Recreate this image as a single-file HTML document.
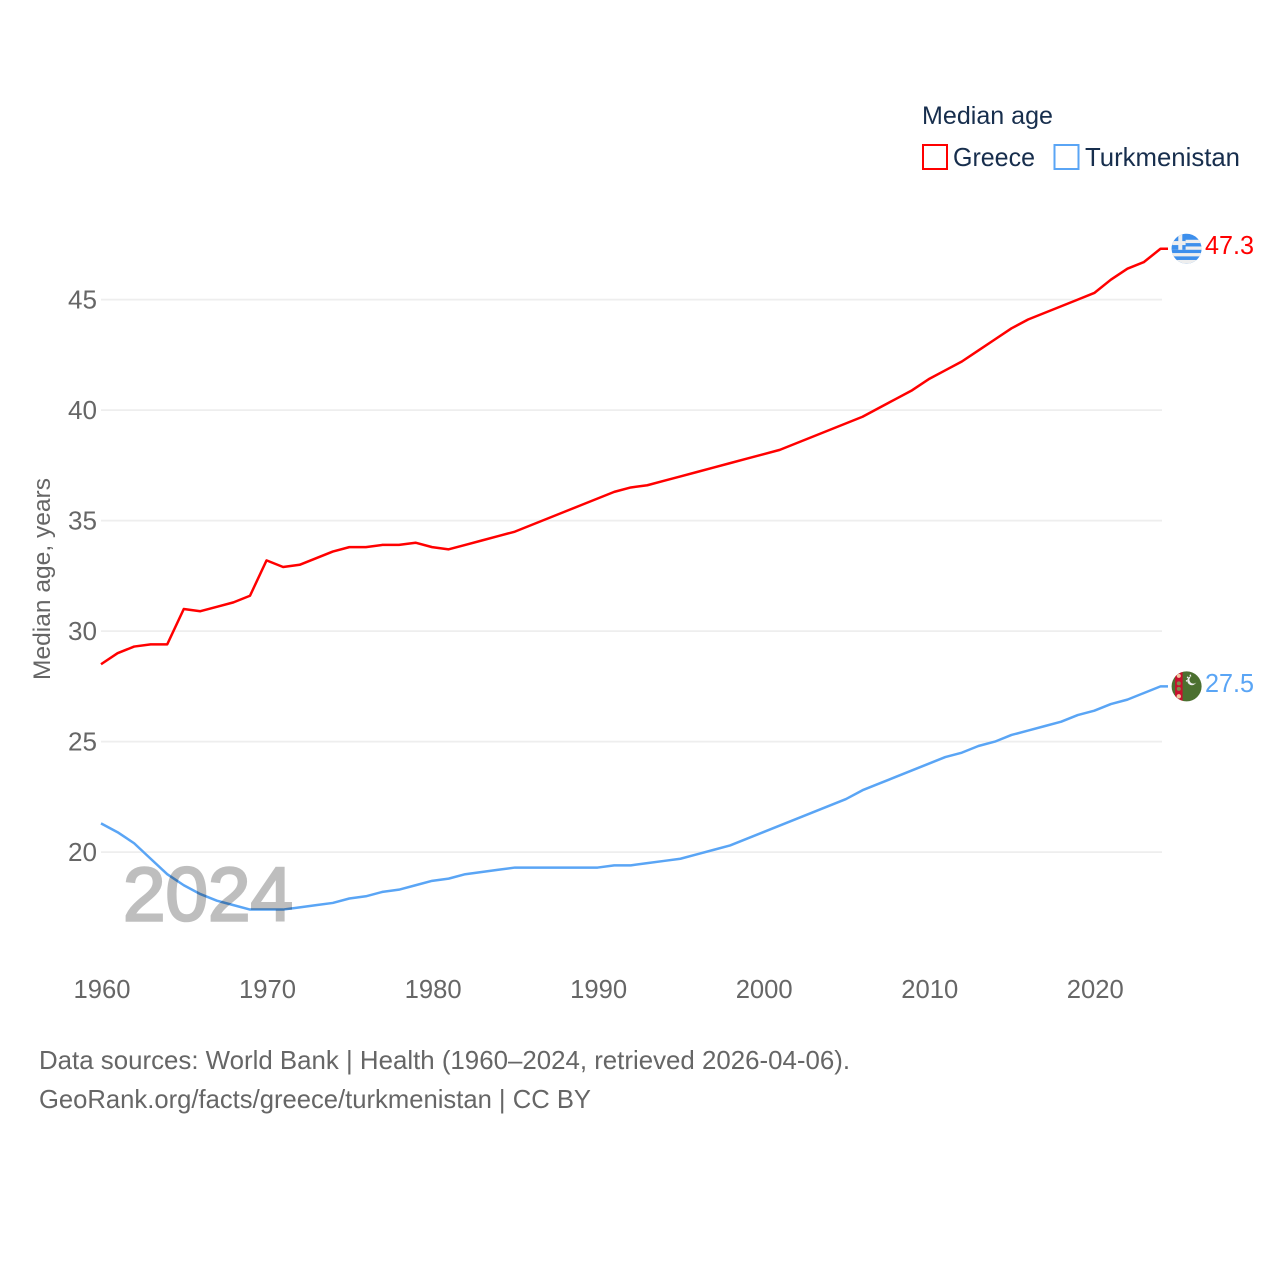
<!DOCTYPE html>
<html lang="en">
<head>
<meta charset="utf-8">
<title>Median age: Greece and Turkmenistan</title>
<style>
html,body{margin:0;padding:0;background:#fff}
svg{display:block}
text{font-family:"Liberation Sans",sans-serif}
</style>
</head>
<body>
<svg id="chart" xmlns="http://www.w3.org/2000/svg" width="1280" height="1280" viewBox="0 0 1280 1280">
  <defs>
    <clipPath id="flag-clip"><circle cx="0" cy="0" r="15"/></clipPath>
  </defs>
  <rect width="1280" height="1280" fill="#fff"/>
  <g id="grid"></g>
  <g id="y-ticks"></g>
  <g id="x-ticks"></g>
  <text transform="translate(50,680) rotate(-90)" font-size="24" fill="#666" textLength="202" lengthAdjust="spacingAndGlyphs">Median age, years</text>
  <g id="series"></g>
  <text x="123" y="920.5" font-size="76.5" font-weight="400" fill="#000" stroke="#000" stroke-width="2.5" opacity="0.25" textLength="170" lengthAdjust="spacingAndGlyphs">2024</text>

  <g>
    <text x="922" y="124" font-size="25" fill="#172e4d" textLength="131" lengthAdjust="spacingAndGlyphs">Median age</text>
    <rect x="923" y="145" width="24" height="24" fill="#fff" stroke="#ff0000" stroke-width="2"/>
    <text x="953" y="166" font-size="26" fill="#172e4d" textLength="82" lengthAdjust="spacingAndGlyphs">Greece</text>
    <rect x="1054.5" y="145" width="24" height="24" fill="#fff" stroke="#5aa5f5" stroke-width="2"/>
    <text x="1085" y="166" font-size="26" fill="#172e4d" textLength="155" lengthAdjust="spacingAndGlyphs">Turkmenistan</text>
  </g>

  <g id="flag-greece">
    <g clip-path="url(#flag-clip)">
      <rect x="-16" y="-16" width="32" height="32" fill="#3d8fec"/>
      <rect x="-16" y="-9" width="32" height="3.3" fill="#eeeeee"/>
      <rect x="-16" y="-2.3" width="32" height="3.3" fill="#eeeeee"/>
      <rect x="-16" y="4.3" width="32" height="3.3" fill="#eeeeee"/>
      <rect x="-16" y="11.2" width="32" height="4" fill="#eeeeee"/>
      <rect x="-16" y="-16" width="15" height="17" fill="#3d8fec"/>
      <rect x="-8.3" y="-16" width="4" height="17" fill="#eeeeee"/>
      <rect x="-16" y="-7.7" width="15" height="4" fill="#eeeeee"/>
    </g>
  </g>
  <g id="flag-turkmenistan">
    <g clip-path="url(#flag-clip)">
      <rect x="-16" y="-16" width="32" height="32" fill="#4c7030"/>
      <rect x="-11.5" y="-16" width="7.5" height="32" fill="#c8102e"/>
      <circle cx="-7.8" cy="-10.5" r="2" fill="#f0c8a0"/>
      <circle cx="-7.8" cy="-3" r="2" fill="#7d8f4d"/>
      <circle cx="-7.8" cy="2.5" r="2" fill="#7d8f4d"/>
      <circle cx="-7.8" cy="10" r="2.2" fill="#f0c8a0"/>
      <circle cx="5.3" cy="-5.7" r="4.6" fill="#eeeeee"/>
      <circle cx="6.8" cy="-6.7" r="4" fill="#4c7030"/>
      <circle cx="1" cy="-9" r="0.8" fill="#eeeeee"/>
      <circle cx="3.8" cy="-11" r="0.8" fill="#eeeeee"/>
      <circle cx="0" cy="-5.5" r="0.8" fill="#eeeeee"/>
    </g>
  </g>

  <text id="value-greece" x="1205" y="254" font-size="26" fill="#ff0000" textLength="49" lengthAdjust="spacingAndGlyphs">47.3</text>
  <text id="value-turkmenistan" x="1205" y="692" font-size="26" fill="#5aa5f5" textLength="49" lengthAdjust="spacingAndGlyphs">27.5</text>

  <g>
    <text x="39" y="1069" font-size="26" fill="#666" textLength="811" lengthAdjust="spacingAndGlyphs">Data sources: World Bank | Health (1960–2024, retrieved 2026-04-06).</text>
    <text x="39" y="1108" font-size="26" fill="#666" textLength="552" lengthAdjust="spacingAndGlyphs">GeoRank.org/facts/greece/turkmenistan | CC BY</text>
  </g>
</svg>
<script>
const startYear = 1960;
const yTickValues = [20, 25, 30, 35, 40, 45];
const xTickYears = [1960, 1970, 1980, 1990, 2000, 2010, 2020];
const greeceValues = [
  28.5, 29.0, 29.3, 29.4, 29.4, 31.0, 30.9, 31.1, 31.3, 31.6,
  33.2, 32.9, 33.0, 33.3, 33.6, 33.8, 33.8, 33.9, 33.9, 34.0,
  33.8, 33.7, 33.9, 34.1, 34.3, 34.5, 34.8, 35.1, 35.4, 35.7,
  36.0, 36.3, 36.5, 36.6, 36.8, 37.0, 37.2, 37.4, 37.6, 37.8,
  38.0, 38.2, 38.5, 38.8, 39.1, 39.4, 39.7, 40.1, 40.5, 40.9,
  41.4, 41.8, 42.2, 42.7, 43.2, 43.7, 44.1, 44.4, 44.7, 45.0,
  45.3, 45.9, 46.4, 46.7, 47.3
];
const turkmenistanValues = [
  21.3, 20.9, 20.4, 19.7, 19.0, 18.5, 18.1, 17.8, 17.6, 17.4,
  17.4, 17.4, 17.5, 17.6, 17.7, 17.9, 18.0, 18.2, 18.3, 18.5,
  18.7, 18.8, 19.0, 19.1, 19.2, 19.3, 19.3, 19.3, 19.3, 19.3,
  19.3, 19.4, 19.4, 19.5, 19.6, 19.7, 19.9, 20.1, 20.3, 20.6,
  20.9, 21.2, 21.5, 21.8, 22.1, 22.4, 22.8, 23.1, 23.4, 23.7,
  24.0, 24.3, 24.5, 24.8, 25.0, 25.3, 25.5, 25.7, 25.9, 26.2,
  26.4, 26.7, 26.9, 27.2, 27.5
];

const NS = 'http://www.w3.org/2000/svg';
function xScale(year) { return 101 + (year - startYear) * 16.555; }
function yScale(v) { return 852.1 - (v - 20) * 22.1; }
function make(tag, attrs, parent) {
  const el = document.createElementNS(NS, tag);
  for (const k in attrs) el.setAttribute(k, attrs[k]);
  parent.appendChild(el);
  return el;
}

const grid = document.getElementById('grid');
const yTicks = document.getElementById('y-ticks');
const xTicks = document.getElementById('x-ticks');
const series = document.getElementById('series');

yTickValues.forEach(function (v) {
  const line = make('line', {x1: 101, x2: 1162, y1: yScale(v), y2: yScale(v), stroke: '#eeeeee', 'stroke-width': 1.8}, grid);
  
  
  const label = make('text', {x: 97, y: yScale(v) + 9, 'text-anchor': 'end', 'font-size': 26, fill: '#666', textLength: 29, lengthAdjust: 'spacingAndGlyphs'}, yTicks);
  
  
  label.textContent = v;
});

xTickYears.forEach(function (year) {
  const label = make('text', {x: xScale(year) + 1, y: 998, 'text-anchor': 'middle', 'font-size': 26, fill: '#666', textLength: 57, lengthAdjust: 'spacingAndGlyphs'}, xTicks);
  
  
  label.textContent = year;
});

function drawSeries(values, color, name, flagId) {
  const pts = values.map(function (v, i) { return xScale(startYear + i).toFixed(2) + ',' + yScale(v).toFixed(2); });
  const lastY = yScale(values[values.length - 1]);
  pts.push('1168,' + lastY.toFixed(2));
  const line = make('polyline', {points: pts.join(' '), fill: 'none', stroke: color, 'stroke-width': 2.5, 'stroke-linejoin': 'round'}, series);
  
  
  document.getElementById(flagId).setAttribute('transform', 'translate(1186.6,' + lastY.toFixed(2) + ')');
}
drawSeries(greeceValues, '#ff0000', 'line-greece', 'flag-greece');
drawSeries(turkmenistanValues, '#5aa5f5', 'line-turkmenistan', 'flag-turkmenistan');

document.getElementById('value-greece').textContent = greeceValues[greeceValues.length - 1].toFixed(1);
document.getElementById('value-turkmenistan').textContent = turkmenistanValues[turkmenistanValues.length - 1].toFixed(1);
</script>
</body>
</html>
